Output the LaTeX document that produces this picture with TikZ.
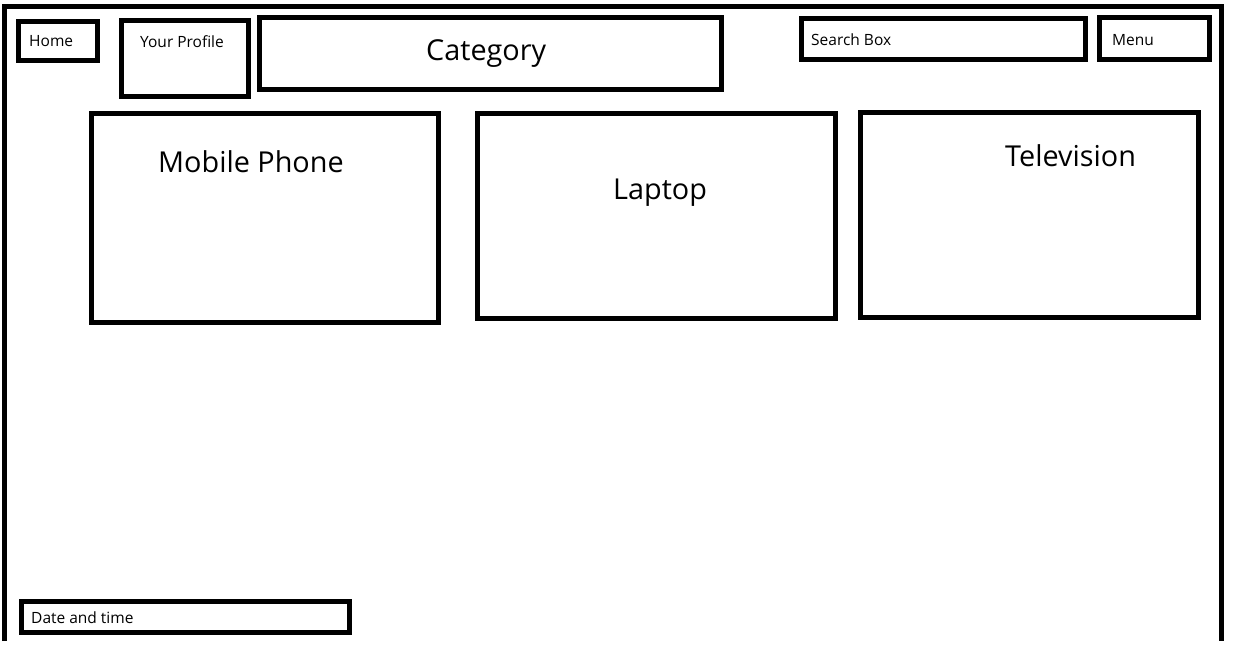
\documentclass[tikz,border=0pt]{standalone}
\usepackage{fontspec}
\setmainfont{Open Sans}
\begin{document}
\begin{tikzpicture}[x=1pt,y=-1pt,
  box/.style={draw=black,line width=5pt,inner sep=0pt,fill=none},
  small/.style={anchor=base west,inner sep=0pt,font=\fontsize{15.5}{18}\selectfont},
  big/.style={anchor=base west,inner sep=0pt,font=\fontsize{28.8}{34}\selectfont}]
\useasboundingbox (0,0) rectangle (1238,659);
% outer frame (open at bottom)
\draw[line width=5pt] (4.5,641) -- (4.5,6.5) -- (1221.5,6.5) -- (1221.5,641);
% boxes
\node[box] (home) at (58,40.75) [minimum width=79pt,minimum height=38.5pt] {};
\node[box] (profile) at (184.75,58.5) [minimum width=126.5pt,minimum height=76pt] {};
\node[box] (category) at (490.5,53.5) [minimum width=462pt,minimum height=72pt] {};
\node[box] (search) at (943.5,39) [minimum width=284pt,minimum height=41pt] {};
\node[box] (menu) at (1154.5,38.5) [minimum width=110pt,minimum height=42pt] {};
\node[box] (mobile) at (265,218) [minimum width=347pt,minimum height=209pt] {};
\node[box] (laptop) at (656.5,216) [minimum width=358pt,minimum height=205pt] {};
\node[box] (tv) at (1029.5,215) [minimum width=338pt,minimum height=205pt] {};
\node[box] (date) at (185.5,617) [minimum width=328pt,minimum height=31pt] {};
% labels
\node[small] (homet) at (29,46) {Home};
\node[small] (profilet) at (140,47) {Your Profile};
\node[big] (categoryt) at (426,60) {Category};
\node[small] (searcht) at (811,45) {Search Box};
\node[small] (menut) at (1112,45) {Menu};
\node[big] (mobilet) at (158,172) {Mobile Phone};
\node[big] (laptopt) at (613,199) {Laptop};
\node[big] (tvt) at (1005,166) {Television};
\node[small] (datet) at (31,623) {Date and time};
\end{tikzpicture}
\end{document}
